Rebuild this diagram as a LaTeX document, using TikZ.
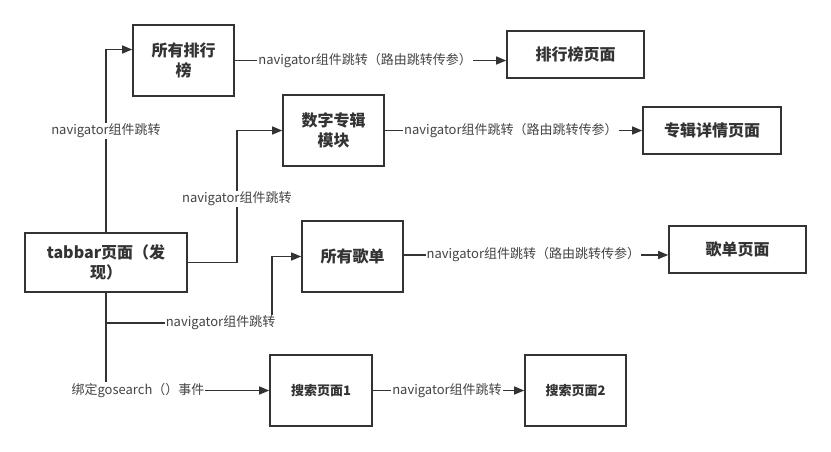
\documentclass[tikz,border=0pt]{standalone}
\usepackage{fontspec}
\setmainfont{Noto Sans CJK SC}
\usetikzlibrary{arrows.meta}
\definecolor{ln}{HTML}{333333}
\definecolor{lb}{HTML}{444444}
\tikzset{
  box/.style={draw=ln, line width=1.6pt, fill=white, text=ln, align=center,
    font=\fontsize{16}{20}\selectfont\bfseries, inner sep=0pt},
  sbox/.style={box, font=\fontsize{13}{16}\selectfont\bfseries},
  arr/.style={draw=ln, line width=1.4pt, -{Triangle[length=10pt,width=8pt]}},
  lbl/.style={fill=white, text=lb, inner sep=1pt, font=\fontsize{13}{15}\selectfont}
}
\begin{document}
\begin{tikzpicture}[x=1pt,y=-1pt]
\useasboundingbox (0,0) rectangle (831,451);
\node[box, minimum width=101pt, minimum height=71pt] (rank) at (183.5,60.5) {所有排行\\榜};
\node[box, minimum width=137pt, minimum height=47pt] (rankpage) at (575.5,54.5) {排行榜页面};
\node[box, minimum width=101pt, minimum height=71pt] (album) at (333.5,130.5) {数字专辑\\模块};
\node[box, minimum width=138pt, minimum height=47pt] (albumpage) at (712,130.5) {专辑详情页面};
\node[box, minimum width=162pt, minimum height=59pt] (tabbar) at (106,262.5) {tabbar页面（发\\现）};
\node[box, minimum width=101pt, minimum height=71pt] (lists) at (352.5,256.5) {所有歌单};
\node[box, minimum width=137pt, minimum height=47pt] (listpage) at (737.5,249.5) {歌单页面};
\node[sbox, minimum width=102pt, minimum height=71pt] (s1) at (321,390.5) {搜索页面1};
\node[sbox, minimum width=101pt, minimum height=71pt] (s2) at (575.5,390.5) {搜索页面2};

\draw[arr] (tabbar.north) |- node[lbl, pos=0.277] {navigator组件跳转} ([yshift=11pt]rank.west);
\draw[arr] (tabbar.east) -- ++(49,0) |- node[lbl, pos=0.24] {navigator组件跳转} (album.west);
\draw[arr] (tabbar.south) -- ++(0,30) -- node[lbl, pos=0.69] {navigator组件跳转} ++(166,0) |- (lists.west);
\draw[arr] (tabbar.south) |- node[lbl, pos=0.598] {绑定gosearch（）事件} (s1.west);

\draw[arr] (rank.east) -- node[lbl, pos=0.48] {navigator组件跳转（路由跳转传参）} (rank.east -| rankpage.west);
\draw[arr] (album.east) -- node[lbl, pos=0.49] {navigator组件跳转（路由跳转传参）} (album.east -| albumpage.west);
\draw[arr] ([yshift=1.5pt]lists.east) -- node[lbl, pos=0.49] {navigator组件跳转（路由跳转传参）} ([yshift=1.5pt]lists.east -| listpage.west);
\draw[arr] (s1.east) -- node[lbl, pos=0.49] {navigator组件跳转} (s2.west);
\end{tikzpicture}
\end{document}
